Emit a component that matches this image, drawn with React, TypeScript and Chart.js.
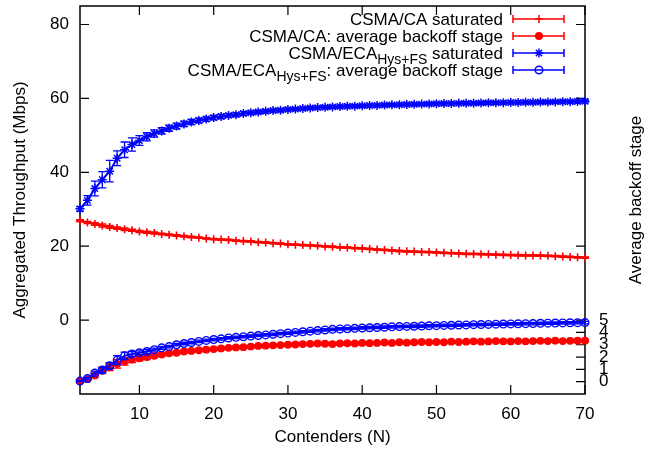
import React, { useEffect, useRef } from 'react';
import { Chart, registerables } from 'chart.js';

Chart.register(...registerables);

const FONT = '"Liberation Sans", Arial, Helvetica, sans-serif';
const RED = '#ff0000';
const BLUE = '#0000ff';

const contenders = [
  2, 3, 4, 5, 6, 7, 8, 9, 10, 11, 12, 13, 14, 15, 16, 17, 18, 19, 20, 21,
  22, 23, 24, 25, 26, 27, 28, 29, 30, 31, 32, 33, 34, 35, 36, 37, 38, 39, 40, 41,
  42, 43, 44, 45, 46, 47, 48, 49, 50, 51, 52, 53, 54, 55, 56, 57, 58, 59, 60, 61,
  62, 63, 64, 65, 66, 67, 68, 69, 70,
];

const caSaturated = [
  26.9, 26.4, 26.0, 25.6, 25.2, 24.9, 24.6, 24.3, 24.0, 23.8, 23.6, 23.3, 23.1, 22.9, 22.7, 22.5, 22.3, 22.1, 21.9, 21.8,
  21.7, 21.5, 21.4, 21.3, 21.1, 21.0, 20.8, 20.7, 20.5, 20.4, 20.3, 20.2, 20.1, 19.95, 19.85, 19.7, 19.6, 19.5, 19.4, 19.25,
  19.1, 19.0, 18.85, 18.7, 18.6, 18.55, 18.45, 18.4, 18.3, 18.2, 18.15, 18.05, 17.95, 17.9, 17.85, 17.8, 17.7, 17.65, 17.6, 17.55,
  17.5, 17.5, 17.45, 17.4, 17.3, 17.2, 17.1, 17.0, 16.9,
];
const caSaturatedErr = [
  0.3, 0.3, 0.35, 0.4, 0.4, 0.35, 0.35, 0.3, 0.3, 0.3, 0.3, 0.25, 0.25, 0.25, 0.25, 0.25, 0.2, 0.2, 0.2, 0.2,
  0.2, 0.2, 0.2, 0.2, 0.2, 0.2, 0.2, 0.2, 0.2, 0.2, 0.2, 0.2, 0.2, 0.2, 0.2, 0.2, 0.2, 0.2, 0.2, 0.2,
  0.2, 0.2, 0.2, 0.2, 0.2, 0.2, 0.2, 0.2, 0.2, 0.2, 0.2, 0.2, 0.2, 0.2, 0.2, 0.2, 0.2, 0.2, 0.2, 0.2,
  0.2, 0.2, 0.2, 0.2, 0.2, 0.2, 0.2, 0.2, 0.2,
];

const caBackoff = [
  0.05, 0.2, 0.5, 0.9, 1.2, 1.45, 1.65, 1.8, 1.9, 2.0, 2.1, 2.2, 2.3, 2.35, 2.45, 2.5, 2.55, 2.6, 2.65, 2.7,
  2.75, 2.78, 2.8, 2.85, 2.9, 2.92, 2.95, 2.97, 3.0, 3.02, 3.05, 3.07, 3.1, 3.08, 3.05, 3.1, 3.12, 3.1, 3.15, 3.13,
  3.15, 3.18, 3.15, 3.2, 3.17, 3.2, 3.22, 3.2, 3.22, 3.2, 3.25, 3.22, 3.25, 3.28, 3.25, 3.27, 3.3, 3.28, 3.27, 3.3,
  3.28, 3.3, 3.32, 3.3, 3.33, 3.3, 3.32, 3.33, 3.33,
];
const caBackoffErr = [
  0.05, 0.1, 0.15, 0.25, 0.3, 0.35, 0.3, 0.25, 0.2, 0.2, 0.15, 0.15, 0.12, 0.12, 0.1, 0.1, 0.1, 0.1, 0.1, 0.1,
  0.1, 0.1, 0.1, 0.1, 0.1, 0.1, 0.1, 0.1, 0.1, 0.1, 0.1, 0.1, 0.1, 0.1, 0.1, 0.1, 0.1, 0.1, 0.1, 0.1,
  0.1, 0.1, 0.1, 0.1, 0.1, 0.1, 0.1, 0.1, 0.1, 0.1, 0.1, 0.1, 0.1, 0.1, 0.1, 0.1, 0.1, 0.1, 0.1, 0.1,
  0.1, 0.1, 0.1, 0.1, 0.1, 0.1, 0.1, 0.1, 0.1,
];

const ecaSaturated = [
  30.1, 32.4, 35.6, 38.0, 40.3, 43.8, 46.1, 47.5, 48.6, 49.6, 50.5, 51.2, 51.9, 52.5, 53.1, 53.6, 54.0, 54.4, 54.8, 55.1,
  55.4, 55.6, 55.9, 56.1, 56.3, 56.5, 56.7, 56.8, 57.0, 57.1, 57.25, 57.4, 57.5, 57.6, 57.7, 57.8, 57.85, 57.9, 58.0, 58.05,
  58.1, 58.2, 58.25, 58.3, 58.35, 58.4, 58.45, 58.5, 58.55, 58.6, 58.6, 58.65, 58.7, 58.7, 58.75, 58.8, 58.8, 58.85, 58.9, 58.9,
  58.95, 58.95, 59.0, 59.0, 59.05, 59.1, 59.1, 59.15, 59.2,
];
const ecaSaturatedErr = [
  0.6, 1.3, 2.0, 2.2, 2.9, 2.0, 2.1, 1.8, 1.3, 1.1, 1.0, 0.9, 0.85, 0.8, 0.75, 0.7, 0.65, 0.6, 0.6, 0.55,
  0.5, 0.5, 0.5, 0.45, 0.45, 0.45, 0.4, 0.4, 0.4, 0.4, 0.4, 0.4, 0.4, 0.4, 0.4, 0.4, 0.4, 0.4, 0.4, 0.4,
  0.4, 0.4, 0.4, 0.4, 0.4, 0.4, 0.4, 0.4, 0.4, 0.4, 0.4, 0.4, 0.4, 0.4, 0.4, 0.4, 0.4, 0.4, 0.4, 0.4,
  0.4, 0.4, 0.4, 0.4, 0.4, 0.4, 0.4, 0.4, 0.4,
];

const ecaBackoff = [
  0.05, 0.25, 0.7, 0.95, 1.3, 1.75, 2.1, 2.25, 2.35, 2.45, 2.6, 2.75, 2.85, 3.0, 3.1, 3.18, 3.27, 3.35, 3.42, 3.48,
  3.55, 3.6, 3.65, 3.7, 3.75, 3.8, 3.85, 3.9, 3.95, 4.0, 4.05, 4.1, 4.15, 4.2, 4.25, 4.28, 4.3, 4.33, 4.36, 4.38,
  4.4, 4.42, 4.45, 4.47, 4.49, 4.5, 4.52, 4.54, 4.55, 4.57, 4.58, 4.6, 4.61, 4.63, 4.64, 4.65, 4.67, 4.68, 4.69, 4.7,
  4.71, 4.72, 4.74, 4.75, 4.76, 4.77, 4.78, 4.79, 4.8,
];
const ecaBackoffErr = [
  0.05, 0.1, 0.15, 0.2, 0.25, 0.36, 0.3, 0.2, 0.15, 0.15, 0.12, 0.12, 0.1, 0.1, 0.1, 0.1, 0.1, 0.1, 0.1, 0.1,
  0.1, 0.1, 0.1, 0.1, 0.1, 0.1, 0.1, 0.1, 0.1, 0.1, 0.1, 0.1, 0.1, 0.1, 0.1, 0.1, 0.1, 0.1, 0.1, 0.1,
  0.1, 0.1, 0.1, 0.1, 0.1, 0.1, 0.1, 0.1, 0.1, 0.1, 0.1, 0.1, 0.1, 0.1, 0.1, 0.1, 0.1, 0.1, 0.1, 0.1,
  0.1, 0.1, 0.1, 0.1, 0.1, 0.1, 0.1, 0.1, 0.1,
];

const xTicks = [10, 20, 30, 40, 50, 60, 70];
const yTicks = [0, 20, 40, 60, 80];
const y2Ticks = [0, 1, 2, 3, 4, 5];

const xTitle = 'Contenders (N)';
const yTitle = 'Aggregated Throughput (Mbps)';
const y2Title = 'Average backoff stage';

// legend rows: text before subscript, subscript, text after
const legendRows = [
  { pre: 'CSMA/CA saturated', sub: '', post: '' },
  { pre: 'CSMA/CA: average backoff stage', sub: '', post: '' },
  { pre: 'CSMA/ECA', sub: 'Hys+FS', post: ' saturated' },
  { pre: 'CSMA/ECA', sub: 'Hys+FS', post: ': average backoff stage' },
];

function drawMarker(ctx: CanvasRenderingContext2D, style: string, x: number, y: number, r: number, color: string, filled: boolean) {
  ctx.save();
  ctx.strokeStyle = color;
  ctx.fillStyle = color;
  ctx.lineWidth = 1.5;
  ctx.beginPath();
  if (style === 'cross') {
    ctx.moveTo(x - r, y); ctx.lineTo(x + r, y);
    ctx.moveTo(x, y - r); ctx.lineTo(x, y + r);
    ctx.stroke();
  } else if (style === 'star') {
    ctx.moveTo(x - r, y); ctx.lineTo(x + r, y);
    ctx.moveTo(x, y - r); ctx.lineTo(x, y + r);
    const d = r * Math.SQRT1_2;
    ctx.moveTo(x - d, y - d); ctx.lineTo(x + d, y + d);
    ctx.moveTo(x - d, y + d); ctx.lineTo(x + d, y - d);
    ctx.stroke();
  } else {
    ctx.arc(x, y, r, 0, Math.PI * 2);
    if (filled) ctx.fill();
    ctx.stroke();
  }
  ctx.restore();
}

const errorBarPlugin = {
  id: 'errorBars',
  afterDatasetDraw(chart: any, args: any) {
    const ds = chart.data.datasets[args.index];
    const errs: number[] | undefined = ds.errors;
    if (!errs) return;
    const yScale = chart.scales[ds.yAxisID];
    const ctx: CanvasRenderingContext2D = chart.ctx;
    ctx.save();
    ctx.strokeStyle = ds.borderColor;
    ctx.lineWidth = 1.3;
    const pts = args.meta.data;
    ds.data.forEach((d: any, i: number) => {
      const e = errs[i];
      const x = pts[i].x;
      const y1 = yScale.getPixelForValue(d.y + e);
      const y2 = yScale.getPixelForValue(d.y - e);
      ctx.beginPath();
      ctx.moveTo(x, y1); ctx.lineTo(x, y2);
      ctx.moveTo(x - 4, y1); ctx.lineTo(x + 4, y1);
      ctx.moveTo(x - 4, y2); ctx.lineTo(x + 4, y2);
      ctx.stroke();
    });
    ctx.restore();
  },
};

const framePlugin = {
  id: 'frame',
  beforeDatasetsDraw(chart: any) {
    const { ctx, chartArea } = chart;
    const { left, right, top, bottom } = chartArea;
    const sx = chart.scales.x, sy = chart.scales.y, sy2 = chart.scales.y2;
    ctx.save();
    ctx.strokeStyle = '#000';
    ctx.lineWidth = 1.5;
    ctx.strokeRect(left, top, right - left, bottom - top);
    ctx.lineWidth = 1.2;
    const T = 9;
    ctx.beginPath();
    yTicks.forEach((v) => {
      const p = sy.getPixelForValue(v);
      ctx.moveTo(left, p); ctx.lineTo(left + T, p);
      ctx.moveTo(right, p); ctx.lineTo(right - T, p);
    });
    y2Ticks.forEach((v) => {
      const p = sy2.getPixelForValue(v);
      ctx.moveTo(right, p); ctx.lineTo(right - T, p);
    });
    xTicks.forEach((v) => {
      const p = sx.getPixelForValue(v);
      ctx.moveTo(p, bottom); ctx.lineTo(p, bottom - T);
      ctx.moveTo(p, top); ctx.lineTo(p, top + T);
    });
    ctx.stroke();
    ctx.restore();
  },
};

const decorPlugin = {
  id: 'decor',
  afterDraw(chart: any) {
    const { ctx, chartArea } = chart;
    const datasets = chart.data.datasets;
    ctx.save();
    ctx.fillStyle = '#000';
    ctx.font = `17px ${FONT}`;
    ctx.textAlign = 'center';
    ctx.textBaseline = 'middle';
    ctx.translate(636, (chartArea.top + chartArea.bottom) / 2);
    ctx.rotate(-Math.PI / 2);
    ctx.fillText(y2Title, 0, 0);
    ctx.restore();

    const textRight = 503;
    const sampleL = 513, sampleR = 564, sampleC = 539;
    const rowY = [19, 36, 53, 70];
    const mainFont = `17px ${FONT}`;
    const subFont = `14px ${FONT}`;
    legendRows.forEach((row, i) => {
      const y = rowY[i];
      const ds = datasets[i];
      ctx.save();
      ctx.font = mainFont;
      const wPre = ctx.measureText(row.pre).width;
      const wPost = row.post ? ctx.measureText(row.post).width : 0;
      ctx.font = subFont;
      const wSub = row.sub ? ctx.measureText(row.sub).width : 0;
      let x = textRight - (wPre + wSub + wPost);
      ctx.fillStyle = '#000';
      ctx.textAlign = 'left';
      ctx.textBaseline = 'alphabetic';
      const base = y + 6;
      ctx.font = mainFont;
      ctx.fillText(row.pre, x, base);
      x += wPre;
      if (row.sub) {
        ctx.font = subFont;
        ctx.fillText(row.sub, x, base + 5);
        x += wSub;
      }
      if (row.post) {
        ctx.font = mainFont;
        ctx.fillText(row.post, x, base);
      }
      ctx.strokeStyle = ds.borderColor;
      ctx.lineWidth = 1.5;
      ctx.beginPath();
      ctx.moveTo(sampleL, y); ctx.lineTo(sampleR, y);
      ctx.moveTo(sampleL, y - 4); ctx.lineTo(sampleL, y + 4);
      ctx.moveTo(sampleR, y - 4); ctx.lineTo(sampleR, y + 4);
      ctx.stroke();
      ctx.restore();
      drawMarker(ctx, ds.pointStyle, sampleC, y, ds.pointRadius, ds.borderColor, ds.pointBackgroundColor !== 'rgba(0,0,0,0)');
    });
  },
};

function toPoints(ys: number[]) {
  return contenders.map((n, i) => ({ x: n, y: ys[i] }));
}

const tickFont = { family: FONT, size: 17 };

export default function App() {
  const ref = useRef<HTMLCanvasElement | null>(null);
  useEffect(() => {
    if (!ref.current) return;
    const chart = new Chart(ref.current, {
      type: 'line',
      data: {
        datasets: [
          {
            label: 'CSMA/CA saturated',
            data: toPoints(caSaturated),
            errors: caSaturatedErr,
            yAxisID: 'y',
            borderColor: RED,
            backgroundColor: RED,
            pointBackgroundColor: RED,
            borderWidth: 2,
            pointStyle: 'cross',
            pointRadius: 4,
            pointBorderWidth: 1.6,
            clip: false,
            order: 3,
          },
          {
            label: 'CSMA/CA: average backoff stage',
            data: toPoints(caBackoff),
            errors: caBackoffErr,
            yAxisID: 'y2',
            borderColor: RED,
            backgroundColor: RED,
            pointBackgroundColor: RED,
            borderWidth: 2,
            pointStyle: 'circle',
            pointRadius: 3.3,
            pointBorderWidth: 1.2,
            clip: false,
            order: 2,
          },
          {
            label: 'CSMA/ECA saturated',
            data: toPoints(ecaSaturated),
            errors: ecaSaturatedErr,
            yAxisID: 'y',
            borderColor: BLUE,
            backgroundColor: BLUE,
            pointBackgroundColor: BLUE,
            borderWidth: 2,
            pointStyle: 'star',
            pointRadius: 4.5,
            pointBorderWidth: 1.5,
            clip: false,
            order: 1,
          },
          {
            label: 'CSMA/ECA: average backoff stage',
            data: toPoints(ecaBackoff),
            errors: ecaBackoffErr,
            yAxisID: 'y2',
            borderColor: BLUE,
            backgroundColor: 'rgba(0,0,0,0)',
            pointBackgroundColor: 'rgba(0,0,0,0)',
            borderWidth: 2,
            pointStyle: 'circle',
            pointRadius: 3.8,
            pointBorderWidth: 1.4,
            clip: false,
            order: 0,
          },
        ] as any,
      },
      options: {
        responsive: false,
        animation: false,
        events: [],
        layout: { padding: { top: 3, left: 0, right: 0, bottom: 0 } },
        plugins: { legend: { display: false }, tooltip: { enabled: false } },
        elements: { line: { tension: 0 } },
        scales: {
          x: {
            type: 'linear',
            position: 'bottom',
            min: 2,
            max: 70,
            grid: { display: false, drawTicks: false },
            border: { display: false },
            ticks: { font: tickFont, color: '#000', padding: 10, autoSkip: false, maxRotation: 0, callback: (v: any) => String(v) },
            afterBuildTicks: (s: any) => { s.ticks = xTicks.map((v) => ({ value: v })); },
            afterFit: (s: any) => { s.height = 60; s.paddingLeft = 0; s.paddingRight = 0; },
            title: { display: true, text: xTitle, font: tickFont, color: '#000', padding: { top: 0, bottom: 6 } },
          },
          y: {
            type: 'linear',
            position: 'left',
            min: -20,
            max: 85,
            grid: { display: false, drawTicks: false },
            border: { display: false },
            ticks: { font: tickFont, color: '#000', padding: 11, autoSkip: false, callback: (v: any) => String(v) },
            afterBuildTicks: (s: any) => { s.ticks = yTicks.map((v) => ({ value: v })); },
            afterFit: (s: any) => { s.width = 80; s.paddingTop = 0; s.paddingBottom = 0; },
            title: { display: true, text: yTitle, font: tickFont, color: '#000', padding: { top: 10, bottom: 0 } },
          },
          y2: {
            type: 'linear',
            position: 'right',
            min: -1,
            max: 30.5,
            grid: { display: false, drawTicks: false },
            border: { display: false },
            ticks: { font: tickFont, color: '#000', padding: 14, autoSkip: false, callback: (v: any) => String(v) },
            afterBuildTicks: (s: any) => { s.ticks = y2Ticks.map((v) => ({ value: v })); },
            afterFit: (s: any) => { s.width = 82; s.paddingTop = 0; s.paddingBottom = 0; },
          },
        },
      } as any,
      plugins: [framePlugin, errorBarPlugin, decorPlugin],
    });
    return () => chart.destroy();
  }, []);

  return (
    <div style={{ position: 'absolute', left: 0, top: 0, width: 667, height: 454, background: '#fff' }}>
      <canvas ref={ref} width={667} height={454} style={{ display: 'block' }} />
    </div>
  );
}
